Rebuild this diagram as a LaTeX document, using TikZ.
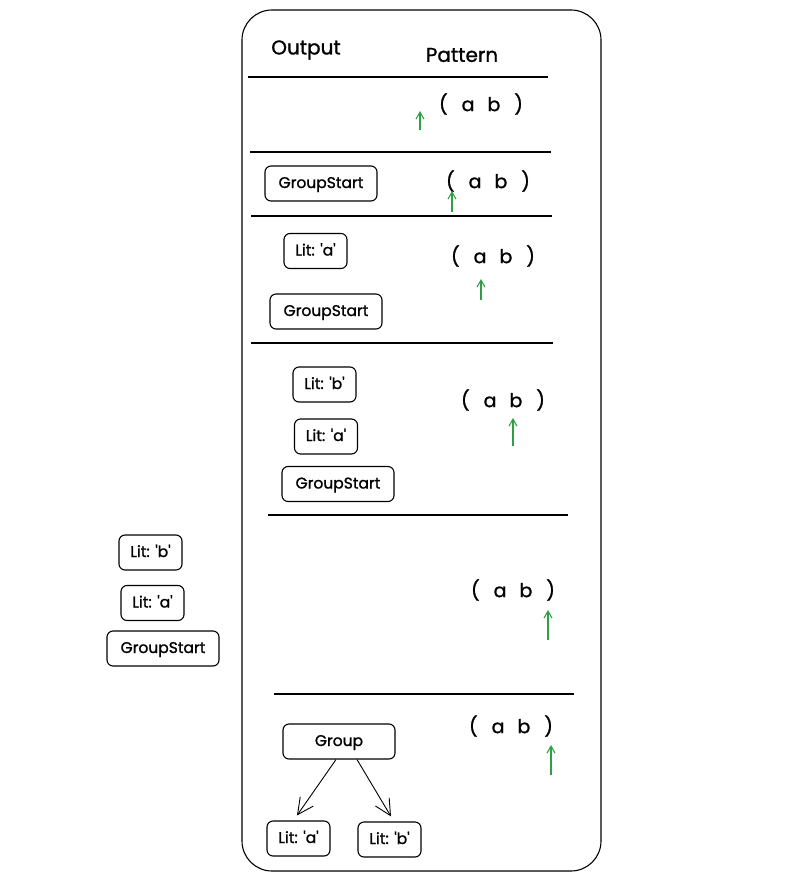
\documentclass[tikz,border=0pt]{standalone}
\usepackage{fontspec}
\setmainfont{Poppins}[Ligatures=TeXOff]
\newfontfamily\medfont{Poppins}[Ligatures=TeXOff,FakeBold=1.2]
\usetikzlibrary{arrows.meta}
\definecolor{grn}{HTML}{2F9E44}
\newcommand\patt{(\hspace{14pt}a\hspace{13pt}b\hspace{14pt})}
\begin{document}
\begin{tikzpicture}[x=1pt,y=-1pt,line width=1.1pt,
  tok/.style={draw,rounded corners=6pt,minimum height=35pt,inner sep=0pt,text height=11pt,text depth=2pt,font=\medfont\fontsize{15.5}{17}\selectfont},
  lit/.style={tok,minimum width=63pt},
  gs/.style={tok,minimum width=112pt},
  pat/.style={font=\medfont\fontsize{19}{21}\selectfont,inner sep=0pt},
  hdr/.style={font=\medfont\fontsize{20}{22}\selectfont,inner sep=0pt},
  garrow/.style={draw=grn,line width=1.1pt,-{Straight Barb[length=7pt,width=8pt]}},
  barrow/.style={line width=0.9pt,-{Straight Barb[length=16pt,width=16pt]}},
  sep/.style={line width=1.1pt}]
\useasboundingbox (0,0) rectangle (786,880);
\draw[rounded corners=30pt] (242,10) rectangle (601,871);
\node[hdr] (hout) at (306,50) {Output};
\node[hdr] (hpat) at (462,55) {Pattern};
% separators
\draw[sep] (248,77) -- (548,77);
\draw[sep] (250,152) -- (551,152);
\draw[sep] (251,216) -- (552,216);
\draw[sep] (251,343) -- (553,343);
\draw[sep] (268,515) -- (568,515);
\draw[sep] (274,694) -- (574,694);
% row 1
\node[pat] (p1) at (481,104) {\patt};
\coordinate (g1s) at (420,130); \coordinate (g1e) at (420,111);
\draw[garrow] (g1s) -- (g1e);
% row 2
\node[gs] (r2gs) at (321,183.5) {GroupStart};
\node[pat] (p2) at (488,181) {\patt};
\coordinate (g2s) at (452,212); \coordinate (g2e) at (452,191);
\draw[garrow] (g2s) -- (g2e);
% row 3
\node[lit] (r3a) at (315.5,251) {Lit: 'a'};
\node[gs] (r3gs) at (326,311.5) {GroupStart};
\node[pat] (p3) at (493,256) {\patt};
\coordinate (g3s) at (481,300); \coordinate (g3e) at (481,279);
\draw[garrow] (g3s) -- (g3e);
% row 4
\node[lit] (r4b) at (324.5,384.5) {Lit: 'b'};
\node[lit] (r4a) at (326,436.5) {Lit: 'a'};
\node[gs] (r4gs) at (338,484) {GroupStart};
\node[pat] (p4) at (503,400) {\patt};
\coordinate (g4s) at (513,446); \coordinate (g4e) at (513,418);
\draw[garrow] (g4s) -- (g4e);
% row 5
\node[pat] (p5) at (513,590) {\patt};
\coordinate (g5s) at (548,640); \coordinate (g5e) at (548,610);
\draw[garrow] (g5s) -- (g5e);
% outside stack
\node[lit] (ob) at (150.5,552.5) {Lit: 'b'};
\node[lit] (oa) at (152.5,603) {Lit: 'a'};
\node[gs] (ogs) at (163,648.5) {GroupStart};
% row 6
\node[gs] (grp) at (339,741.5) {Group};
\node[lit] (la) at (298.5,838.5) {Lit: 'a'};
\node[lit] (lb) at (389.5,839.5) {Lit: 'b'};
\node[pat] (p6) at (511,726) {\patt};
\coordinate (g6s) at (551,775); \coordinate (g6e) at (551,745);
\draw[garrow] (g6s) -- (g6e);
\draw[barrow] ([xshift=-3pt]grp.south) -- ([xshift=-1.5pt,yshift=5pt]la.north);
\draw[barrow] ([xshift=18pt]grp.south) -- ([xshift=1.5pt,yshift=5pt]lb.north);
\end{tikzpicture}
\end{document}
